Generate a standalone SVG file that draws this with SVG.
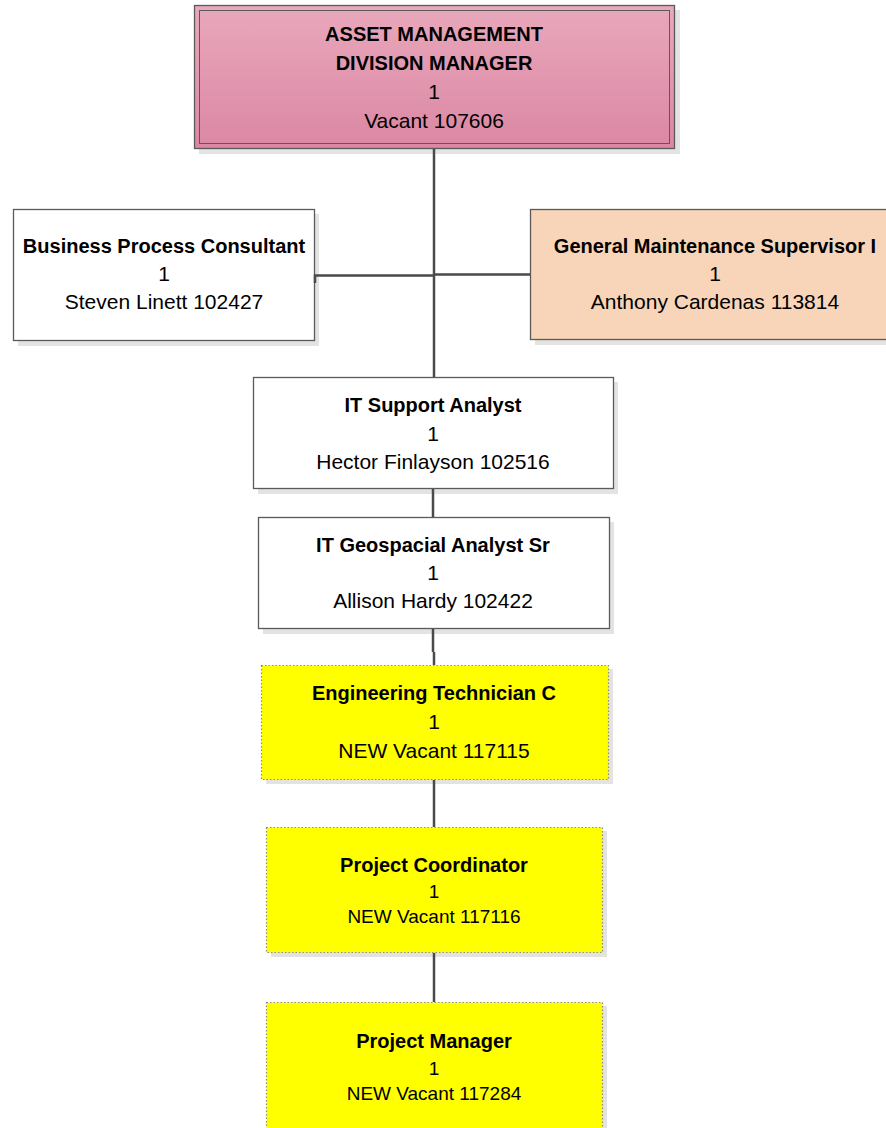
<svg xmlns="http://www.w3.org/2000/svg" width="886" height="1128" viewBox="0 0 886 1128">
<defs>
<linearGradient id="pink" x1="0" y1="0" x2="0" y2="1">
<stop offset="0" stop-color="#E9A8BC"/>
<stop offset="1" stop-color="#DB87A3"/>
</linearGradient>
</defs>
<style>
.sh{fill:#E3E3E3}
.box{stroke:#5A5A5A;stroke-width:1.3}
.white{fill:#FFFFFF}
.peach{fill:#F8D5B8}
.yellow{fill:#FFFF00;stroke:#8C8C8C;stroke-width:1.2;stroke-dasharray:1.5 2}
.t{font-family:"Liberation Sans",Arial,sans-serif;font-size:20px;font-weight:bold;fill:#000;text-anchor:middle}
.r{font-family:"Liberation Sans",Arial,sans-serif;font-size:21px;fill:#000;text-anchor:middle}
.rs{font-family:"Liberation Sans",Arial,sans-serif;font-size:19px;fill:#000;text-anchor:middle}
.c{stroke:#4A4A4A;stroke-width:2.5;fill:none}
</style>
<rect width="886" height="1128" fill="#FFFFFF"/>
<g id="node-division-manager">
<rect class="sh" x="199" y="10" width="481" height="144"/>
<rect class="box" x="194.5" y="5.5" width="480" height="143" fill="url(#pink)"/>
<rect x="199.5" y="10.5" width="470" height="133" fill="none" stroke="#5A5A5A" stroke-width="1"/>
<text class="t" x="434" y="41">ASSET MANAGEMENT</text>
<text class="t" x="434" y="70">DIVISION MANAGER</text>
<text class="r" x="434" y="99">1</text>
<text class="r" x="434" y="128">Vacant 107606</text>
</g>
<g id="node-business-process">
<rect class="sh" x="18" y="214" width="301" height="132"/>
<rect class="box white" x="13.5" y="209.5" width="301" height="131"/>
<text class="t" x="164" y="253">Business Process Consultant</text>
<text class="r" x="164" y="281">1</text>
<text class="r" x="164" y="309">Steven Linett 102427</text>
</g>
<g id="node-general-maintenance">
<rect class="sh" x="535" y="214" width="360" height="131"/>
<rect class="box peach" x="530.5" y="209.5" width="370" height="130"/>
<text class="t" x="715" y="253">General Maintenance Supervisor I</text>
<text class="r" x="715" y="281">1</text>
<text class="r" x="715" y="309">Anthony Cardenas 113814</text>
</g>
<g id="node-it-support">
<rect class="sh" x="258" y="382" width="360" height="112"/>
<rect class="box white" x="253.5" y="377.5" width="360" height="111"/>
<text class="t" x="433" y="412">IT Support Analyst</text>
<text class="r" x="433" y="441">1</text>
<text class="r" x="433" y="469">Hector Finlayson 102516</text>
</g>
<g id="node-it-geospacial">
<rect class="sh" x="263" y="522" width="351" height="112"/>
<rect class="box white" x="258.5" y="517.5" width="351" height="111"/>
<text class="t" x="433" y="552">IT Geospacial Analyst Sr</text>
<text class="r" x="433" y="580">1</text>
<text class="r" x="433" y="608">Allison Hardy 102422</text>
</g>
<g id="node-engineering-tech">
<rect class="sh" x="266" y="669" width="347" height="115"/>
<rect class="yellow" x="261.5" y="665.5" width="347" height="114"/>
<text class="t" x="434" y="700">Engineering Technician C</text>
<text class="r" x="434" y="729">1</text>
<text class="r" x="434" y="758">NEW Vacant 117115</text>
</g>
<g id="node-project-coordinator">
<rect class="sh" x="271" y="831" width="336" height="126"/>
<rect class="yellow" x="266.5" y="827.5" width="336" height="125"/>
<text class="t" x="434" y="872">Project Coordinator</text>
<text class="rs" x="434" y="898">1</text>
<text class="rs" x="434" y="923">NEW Vacant 117116</text>
</g>
<g id="node-project-manager">
<rect class="sh" x="271" y="1006" width="336" height="130"/>
<rect class="yellow" x="266.5" y="1002.5" width="336" height="130"/>
<text class="t" x="434" y="1048">Project Manager</text>
<text class="rs" x="434" y="1075">1</text>
<text class="rs" x="434" y="1100">NEW Vacant 117284</text>
</g>
<g id="connectors">
<path class="c" d="M434 149 V377"/>
<path class="c" d="M315 283 V275.5 H434"/>
<path class="c" d="M434 274.5 H530"/>
<path class="c" d="M433 489 V517"/>
<path class="c" d="M433 629 V652 M434 652 V665"/>
<path class="c" d="M434 780 V827"/>
<path class="c" d="M434 953 V1002"/>
</g>
</svg>
